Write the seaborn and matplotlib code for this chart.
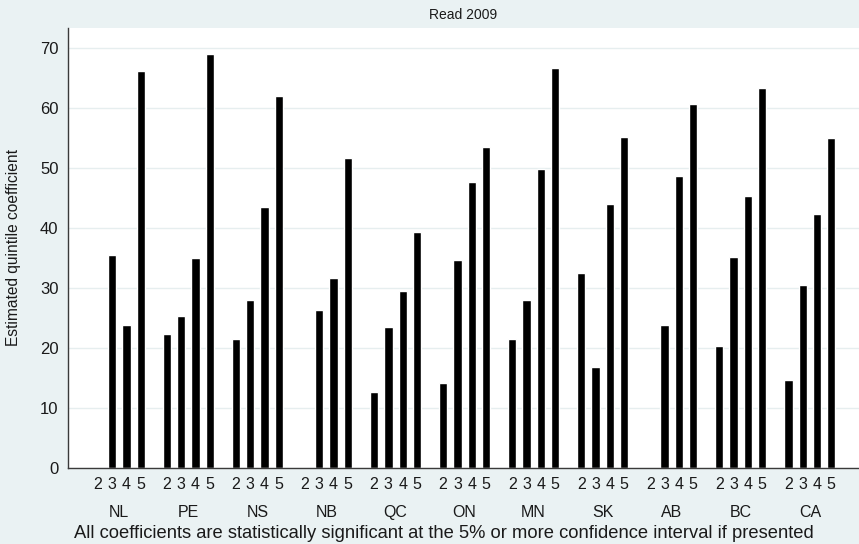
import numpy as np
import pandas as pd
import matplotlib
matplotlib.use("Agg")
import matplotlib.pyplot as plt
import seaborn as sns

# Estimated quintile coefficients, Read 2009 (NaN = not shown)
provinces = ["NL", "PE", "NS", "NB", "QC", "ON", "MN", "SK", "AB", "BC", "CA"]
quintiles = ["2", "3", "4", "5"]
q2 = [np.nan, 22.4, 21.5, np.nan, 12.6, 14.1, 21.5, 32.5, np.nan, 20.3, 14.7]
q3 = [35.5, 25.3, 28.0, 26.4, 23.6, 34.7, 28.0, 16.9, 23.9, 35.2, 30.6]
q4 = [23.8, 35.0, 43.5, 31.7, 29.6, 47.7, 49.8, 44.0, 48.7, 45.4, 42.3]
q5 = [66.2, 69.0, 62.1, 51.7, 39.3, 53.6, 66.8, 55.2, 60.7, 63.4, 55.0]
yticks = [0, 10, 20, 30, 40, 50, 60, 70]

title = "Read 2009"
ylabel = "Estimated quintile coefficient"
note = ("All coefficients are statistically significant at the 5% or more "
        "confidence interval if presented")

series = {"2": q2, "3": q3, "4": q4, "5": q5}
df = pd.DataFrame(
    [(p, q, series[q][i]) for i, p in enumerate(provinces) for q in quintiles],
    columns=["province", "quintile", "coef"],
).dropna()

sns.set_style("white")
plt.rcParams["font.family"] = ["Liberation Sans", "DejaVu Sans"]

bg = "#EAF2F3"
axis_col = "#3a3a3a"
text_col = "#1a1a1a"

fig = plt.figure(figsize=(8.59, 5.44), dpi=100, facecolor=bg)
ax = fig.add_axes([68 / 859, 1 - 468 / 544, 1 - 68 / 859, (468 - 28) / 544])
ax.set_facecolor("white")

group_w = 0.829
sns.barplot(
    data=df, x="province", y="coef", hue="quintile",
    order=provinces, hue_order=quintiles,
    palette=["black"] * len(quintiles), saturation=1,
    width=group_w, gap=0.42, errorbar=None, legend=False, ax=ax,
)

ax.set_xlim(-0.743, 10.712)
ax.set_ylim(0, 73.4)

# y axis
ax.set_yticks(yticks)
ax.set_yticklabels([str(v) for v in yticks], fontsize=12)
ax.tick_params(axis="y", length=3.8, width=1, color=axis_col, pad=3,
               labelcolor=text_col)
ax.yaxis.grid(True, color="#E6EEEF", lw=1)
ax.set_axisbelow(True)
ax.set_ylabel(ylabel, fontsize=11.2, color=text_col)
ax.yaxis.set_label_coords((21 - 68) / 791, 0.5)

# x axis: quintile labels under each bar slot, province names beneath
slot = group_w / len(quintiles)
minor_pos, minor_lab = [], []
for i in range(len(provinces)):
    for j, q in enumerate(quintiles):
        minor_pos.append(i + (j - (len(quintiles) - 1) / 2) * slot)
        minor_lab.append(q)
ax.set_xticks(minor_pos, minor=True)
ax.set_xticklabels(minor_lab, minor=True, fontsize=11.5, color=text_col)
ax.set_xticks(range(len(provinces)))
ax.set_xticklabels(provinces, fontsize=11.5, color=text_col)
ax.tick_params(axis="x", which="minor", length=0, pad=6.3)
ax.tick_params(axis="x", which="major", length=0, pad=26.5)
ax.set_xlabel("")

for s in ["top", "right"]:
    ax.spines[s].set_visible(False)
for s in ["left", "bottom"]:
    ax.spines[s].set_color(axis_col)
    ax.spines[s].set_linewidth(1)

fig.text((68 + 859) / 2 / 859, 1 - 15 / 544, title, ha="center", va="center",
         fontsize=10, color=text_col)
fig.text(444 / 859, 1 - 538.5 / 544, note, ha="center", va="baseline",
         fontsize=13.2, color=text_col)

fig.savefig("out.png", dpi=100, facecolor=bg)
